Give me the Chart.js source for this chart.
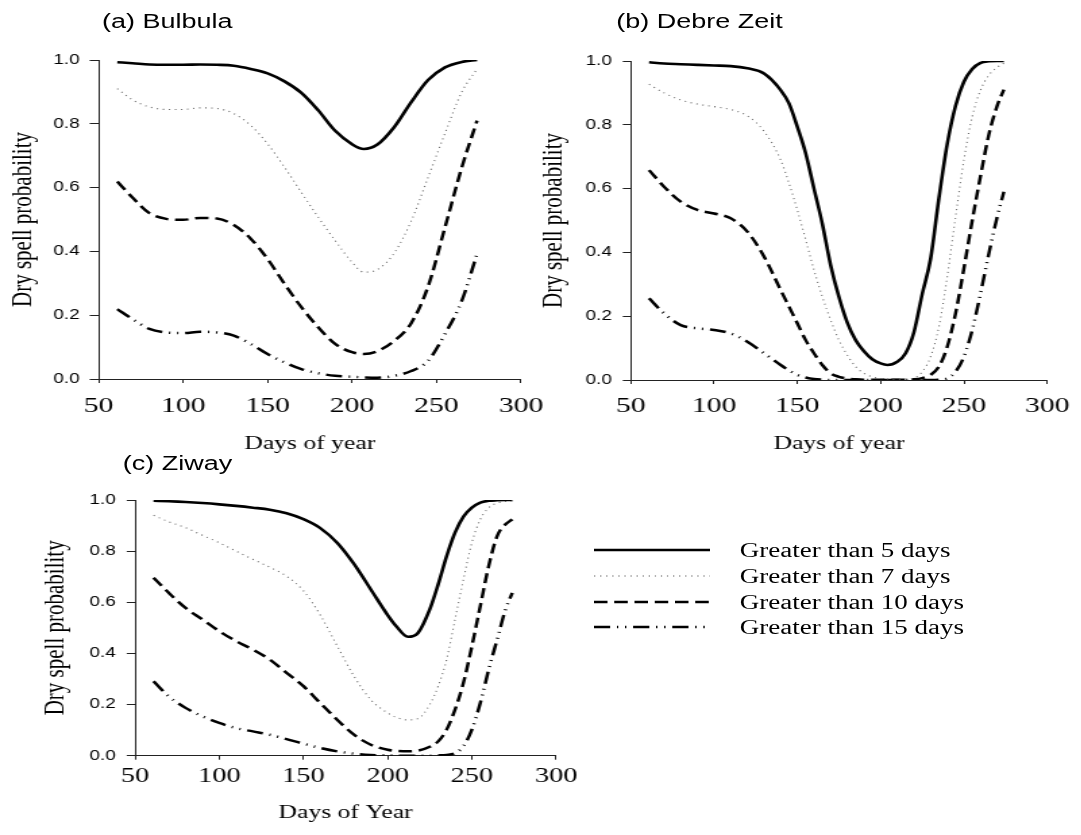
<!DOCTYPE html>
<html>
<head>
<meta charset="utf-8">
<script src="https://cdn.jsdelivr.net/npm/chart.js@4.4.1/dist/chart.umd.min.js"></script>
<style>
  html, body { margin: 0; padding: 0; background: #fff; }
  /* the original figure is stretched sideways, so the whole page is too */
  #fig { position: absolute; left: 0; top: 0; width: 801px; height: 835px; transform: scaleX(1.35); transform-origin: 0 0; }
  #fig canvas { position: absolute; }
  .ptitle { position: absolute; font: 20px "Liberation Sans", Arial, sans-serif; line-height: 20px; white-space: nowrap; color: #000; }
  .lrow { position: absolute; left: 440px; height: 24px; white-space: nowrap; font: 20px "Liberation Serif", "Times New Roman", serif; line-height: 24px; color: #000; }
  .lrow svg { position: absolute; left: 0; top: 7px; }
  .lrow span { position: absolute; left: 108px; top: 0; }
</style>
</head>
<body>
<div id="fig">
  <div class="ptitle" style="left:75.5px;top:11px">(a) Bulbula</div>
  <div class="ptitle" style="left:456.5px;top:11px">(b) Debre Zeit</div>
  <div class="ptitle" style="left:91px;top:453px">(c) Ziway</div>
  <canvas id="ca" width="420" height="460" style="left:0;top:0"></canvas>
  <canvas id="cb" width="405" height="460" style="left:396px;top:0"></canvas>
  <canvas id="cc" width="440" height="395" style="left:0;top:440px"></canvas>
  <div id="legend"></div>
</div>
<script>
const seriesNames = ["Greater than 5 days", "Greater than 7 days", "Greater than 10 days", "Greater than 15 days"];
const xTicks = [50, 100, 150, 200, 250, 300];
const yTicks = [0, 0.2, 0.4, 0.6, 0.8, 1.0];

// (a) Bulbula
const daysA = [61, 70, 80, 90, 100, 110, 120, 130, 140, 150, 160, 170, 180, 190, 200, 207, 215, 225, 235, 245, 255, 265, 274];
const bulbula5 = [0.993, 0.99, 0.986, 0.985, 0.985, 0.986, 0.985, 0.982, 0.972, 0.958, 0.933, 0.897, 0.842, 0.778, 0.736, 0.721, 0.735, 0.79, 0.868, 0.937, 0.977, 0.994, 1.0];
const bulbula7 = [0.91, 0.875, 0.853, 0.845, 0.845, 0.85, 0.848, 0.832, 0.795, 0.737, 0.664, 0.585, 0.507, 0.434, 0.366, 0.335, 0.343, 0.395, 0.495, 0.632, 0.77, 0.9, 0.972];
const bulbula10 = [0.619, 0.569, 0.52, 0.502, 0.499, 0.505, 0.503, 0.483, 0.44, 0.376, 0.298, 0.225, 0.162, 0.11, 0.084, 0.078, 0.087, 0.12, 0.175, 0.29, 0.475, 0.664, 0.81];
const bulbula15 = [0.219, 0.188, 0.157, 0.146, 0.144, 0.148, 0.146, 0.136, 0.11, 0.078, 0.052, 0.031, 0.018, 0.01, 0.007, 0.005, 0.004, 0.01, 0.025, 0.057, 0.141, 0.246, 0.392];

// (b) Debre Zeit
const daysB = [61, 70, 80, 90, 100, 110, 120, 130, 140, 145, 150, 155, 160, 165, 170, 175, 180, 185, 190, 195, 200, 204, 210, 215, 220, 225, 230, 235, 240, 245, 250, 255, 260, 265, 270, 274];
const debre5 = [0.996, 0.992, 0.99, 0.988, 0.986, 0.984, 0.977, 0.961, 0.909, 0.867, 0.794, 0.711, 0.6, 0.49, 0.36, 0.26, 0.18, 0.125, 0.09, 0.065, 0.052, 0.047, 0.057, 0.084, 0.15, 0.27, 0.38, 0.57, 0.74, 0.86, 0.935, 0.975, 0.994, 0.999, 1.0, 1.0];
const debre7 = [0.927, 0.9, 0.878, 0.865, 0.857, 0.848, 0.828, 0.78, 0.69, 0.617, 0.533, 0.44, 0.345, 0.261, 0.188, 0.125, 0.078, 0.042, 0.021, 0.01, 0.005, 0.003, 0.002, 0.003, 0.006, 0.026, 0.073, 0.167, 0.324, 0.512, 0.69, 0.826, 0.909, 0.956, 0.98, 0.993];
const debre10 = [0.658, 0.606, 0.559, 0.533, 0.522, 0.507, 0.465, 0.387, 0.282, 0.23, 0.178, 0.125, 0.084, 0.047, 0.021, 0.01, 0.005, 0.002, 0.001, 0.001, 0.001, 0.001, 0.001, 0.001, 0.002, 0.006, 0.016, 0.042, 0.104, 0.209, 0.35, 0.5, 0.64, 0.77, 0.86, 0.91];
const debre15 = [0.256, 0.209, 0.172, 0.162, 0.157, 0.146, 0.12, 0.084, 0.047, 0.03, 0.016, 0.008, 0.003, 0.001, 0.0, 0.0, 0.0, 0.0, 0.0, 0.0, 0.0, 0.0, 0.0, 0.0, 0.0, 0.0, 0.0, 0.001, 0.005, 0.026, 0.073, 0.157, 0.272, 0.397, 0.512, 0.59];

// (c) Ziway
const daysC = [61, 70, 80, 90, 100, 110, 120, 130, 140, 150, 160, 170, 180, 190, 200, 205, 212, 218, 225, 230, 235, 240, 245, 250, 255, 260, 265, 270, 274];
const ziway5 = [0.997, 0.995, 0.992, 0.988, 0.983, 0.977, 0.97, 0.962, 0.948, 0.925, 0.89, 0.833, 0.75, 0.65, 0.55, 0.507, 0.465, 0.48, 0.572, 0.67, 0.78, 0.872, 0.935, 0.97, 0.99, 0.997, 0.999, 1.0, 1.0];
const ziway7 = [0.94, 0.915, 0.892, 0.862, 0.833, 0.8, 0.768, 0.737, 0.702, 0.645, 0.55, 0.43, 0.311, 0.219, 0.167, 0.15, 0.14, 0.145, 0.2, 0.272, 0.376, 0.533, 0.689, 0.833, 0.924, 0.97, 0.988, 0.995, 0.996];
const ziway10 = [0.696, 0.637, 0.578, 0.533, 0.487, 0.448, 0.415, 0.376, 0.324, 0.272, 0.206, 0.141, 0.082, 0.043, 0.023, 0.019, 0.017, 0.02, 0.035, 0.056, 0.102, 0.18, 0.285, 0.428, 0.585, 0.742, 0.859, 0.905, 0.924];
const ziway15 = [0.291, 0.232, 0.187, 0.154, 0.128, 0.108, 0.095, 0.082, 0.065, 0.047, 0.03, 0.017, 0.008, 0.003, 0.001, 0.0, 0.0, 0.0, 0.0, 0.001, 0.003, 0.01, 0.037, 0.102, 0.206, 0.337, 0.454, 0.572, 0.637];

// line looks, same order as seriesNames
const lineStyles = [
  { color: "#000", width: 2.6, dash: [] },
  { color: "#666", width: 1.1, dash: [1, 3.5] },
  { color: "#000", width: 2.5, dash: [10, 5] },
  { color: "#000", width: 2.5, dash: [12, 5, 1, 5, 1, 5] },
];

const serif = "'Liberation Serif', 'Times New Roman', serif";
const sans = "'Liberation Sans', Arial, sans-serif";

function panel(id, days, series, o) {
  new Chart(document.getElementById(id), {
    type: "line",
    data: {
      datasets: series.map((vals, i) => ({
        label: seriesNames[i],
        data: days.map((d, k) => ({ x: d, y: vals[k] })),
        borderColor: lineStyles[i].color,
        borderWidth: lineStyles[i].width,
        borderDash: lineStyles[i].dash,
        pointRadius: 0,
        cubicInterpolationMode: "monotone",
        fill: false,
      })),
    },
    options: {
      responsive: false,
      animation: false,
      events: [],
      layout: { padding: { top: o.top, right: o.right, left: 0, bottom: 0 } },
      plugins: { legend: { display: false }, tooltip: { enabled: false } },
      scales: {
        x: {
          type: "linear",
          min: 50,
          max: 300,
          afterBuildTicks: (s) => { s.ticks = xTicks.map((v) => ({ value: v })); },
          afterFit: (s) => { s.height = o.xHeight; },
          ticks: { font: { family: serif, size: o.xFont }, color: "#000", padding: o.xPad, maxRotation: 0 },
          grid: { drawOnChartArea: false, tickLength: 4, color: "#222" },
          border: { color: "#222", width: 1 },
          title: { display: true, text: o.xTitle, color: "#000", font: { family: serif, size: 19 }, padding: { top: 0, bottom: o.xTitlePad } },
        },
        y: {
          min: 0,
          max: 1,
          afterBuildTicks: (s) => { s.ticks = yTicks.map((v) => ({ value: v })); },
          afterFit: (s) => { s.width = o.yWidth; },
          ticks: { font: { family: sans, size: 14 }, color: "#000", padding: o.yPad, callback: (v) => v.toFixed(1) },
          grid: { drawOnChartArea: false, tickLength: o.yTickLen, color: "#222" },
          border: { color: "#222", width: 1 },
          title: { display: true, text: "Dry spell probability", color: "#000", font: { family: serif, size: 21 }, padding: { top: o.yTitlePad, bottom: 0 } },
        },
      },
    },
  });
}

panel("ca", daysA, [bulbula5, bulbula7, bulbula10, bulbula15], {
  top: 60, right: 34.1, yWidth: 73.1, xHeight: 81, xFont: 22, xPad: 9.8,
  yPad: 7.4, yTickLen: 6.7, yTitlePad: 5.2, xTitle: "Days of year", xTitlePad: 4.5,
});
panel("cb", daysB, [debre5, debre7, debre10, debre15], {
  top: 61, right: 22, yWidth: 71.2, xHeight: 80, xFont: 22, xPad: 8.8,
  yPad: 8.1, yTickLen: 5.9, yTitlePad: 1.6, xTitle: "Days of year", xTitlePad: 4.5,
});
panel("cc", daysC, [ziway5, ziway7, ziway10, ziway15], {
  top: 60, right: 28.1, yWidth: 100, xHeight: 79.3, xFont: 21, xPad: 3.7,
  yPad: 8.1, yTickLen: 6.1, yTitlePad: 28.9, xTitle: "Days of Year", xTitlePad: 10.6,
});

// legend beside panel (c)
const rowY = [538, 564, 589.5, 615];
const legend = document.getElementById("legend");
seriesNames.forEach((name, i) => {
  const st = lineStyles[i];
  const row = document.createElement("div");
  row.className = "lrow";
  row.style.top = rowY[i] + "px";
  row.innerHTML =
    '<svg width="86" height="10"><line x1="0" y1="5" x2="86" y2="5" stroke="' + st.color +
    '" stroke-width="' + st.width + '" stroke-dasharray="' + (st.dash.length ? st.dash.join(" ") : "none") +
    '"/></svg><span>' + name + "</span>";
  legend.appendChild(row);
});
</script>
</body>
</html>
